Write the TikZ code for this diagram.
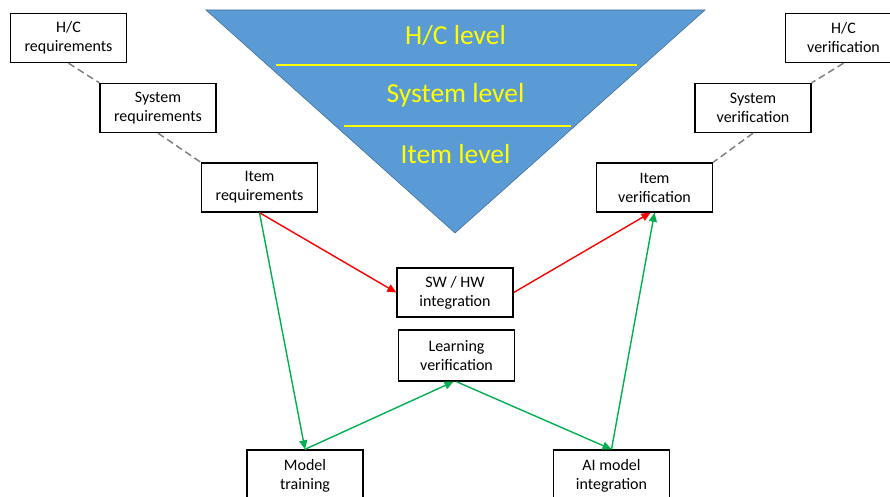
\documentclass[tikz,border=0pt]{standalone}
\usepackage{fontspec}
\setmainfont{Carlito}
\usetikzlibrary{arrows.meta}
\definecolor{triblue}{HTML}{5B9BD5}
\definecolor{triedge}{HTML}{41719C}
\definecolor{lvlyellow}{HTML}{FFFF00}
\definecolor{arrred}{HTML}{FF0000}
\definecolor{arrgreen}{HTML}{00B050}
\definecolor{dashgray}{HTML}{808080}
\begin{document}
\begin{tikzpicture}[x=1pt,y=-1pt,
  box/.style={draw=black,line width=1.4pt,fill=white,minimum width=116pt,minimum height=49pt,
    inner sep=0pt,align=center,font=\fontsize{16}{19}\selectfont},
  lvl/.style={text=lvlyellow,font=\fontsize{27.5}{32}\selectfont,inner sep=0pt},
  dashlink/.style={draw=dashgray,line width=1.5pt,dash pattern=on 7pt off 4pt},
  redarr/.style={draw=arrred,line width=1.4pt,-{Triangle[length=9pt,width=8pt]}},
  greenarr/.style={draw=arrgreen,line width=1.4pt,-{Triangle[length=9pt,width=8pt]}}]
\useasboundingbox (0,0) rectangle (890,497);
% inverted triangle
\fill[triblue,draw=triedge,line width=0.6pt] (206,10) -- (705,10) -- (455,233) -- cycle;
\draw[lvlyellow,line width=2pt] (276,65) -- (637,65);
\draw[lvlyellow,line width=2pt] (344,126) -- (571,126);
\node[lvl] (hcl) at (455.5,36) {H/C level};
\node[lvl] (sysl) at (455.5,95) {System level};
\node[lvl] (iteml) at (455.5,154) {Item level};
% boxes
\node[box] (hcr) at (68.5,38) {H/C\\requirements};
\node[box] (sysr) at (158,108) {System\\requirements};
\node[box] (itemr) at (259.5,187.5) {Item\\requirements};
\node[box] (hcv) at (843.5,38) {H/C\\verification};
\node[box] (sysv) at (753,108) {System\\verification};
\node[box] (itemv) at (654.5,187.5) {Item\\verification};
\node[box] (swhw) at (455,292.5) {SW / HW\\integration};
\node[box,minimum height=51pt] (lver) at (456.5,355.5) {Learning\\verification};
\node[box,minimum height=51pt] (mtrain) at (305,475.5) {Model\\training};
\node[box,minimum height=51pt] (aimi) at (611.5,475.5) {AI model\\integration};
% dashed links
\draw[dashlink] (hcr.south) -- (sysr.north west);
\draw[dashlink] (sysr.south) -- (itemr.north west);
\draw[dashlink] (hcv.south) -- (sysv.north east);
\draw[dashlink] (sysv.south) -- (itemv.north east);
% red arrows
\draw[redarr] (itemr.south) -- (swhw.west);
\draw[redarr] (swhw.east) -- ([xshift=-4pt]itemv.south);
% green arrows
\draw[greenarr] (itemr.south) -- (mtrain.north);
\draw[greenarr] (mtrain.north) -- ([xshift=-3pt]lver.south);
\draw[greenarr] (lver.south) -- (aimi.north);
\draw[greenarr] (aimi.north) -- (itemv.south);
\end{tikzpicture}
\end{document}
